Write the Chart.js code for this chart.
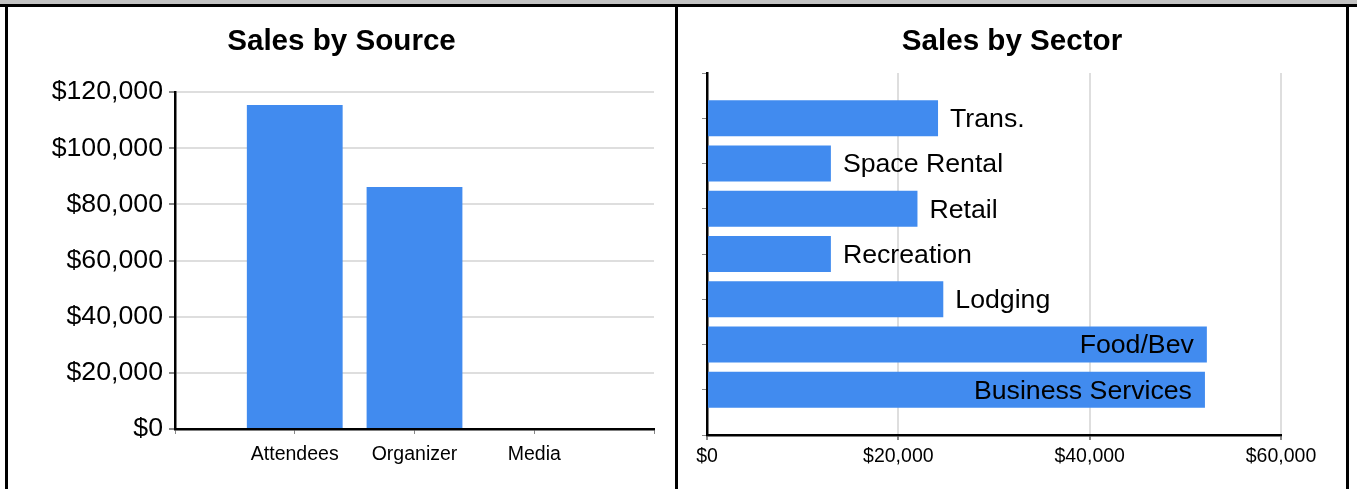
<!DOCTYPE html>
<html>
<head>
<meta charset="utf-8">
<script src="https://cdn.jsdelivr.net/npm/chart.js@4.4.1/dist/chart.umd.min.js"></script>
<style>
  body { margin: 0; background: #fff; width: 1357px; height: 489px; overflow: hidden; position: relative; }
  .band { position: absolute; left: 0; top: 0; width: 1357px; height: 4px; background: #c3c3c3; }
  .line { position: absolute; background: #000; }
  canvas { position: absolute; top: 7px; }
</style>
</head>
<body>
<div class="band"></div>
<div class="line" style="left:0;top:4px;width:1357px;height:3px"></div>
<div class="line" style="left:5px;top:4px;width:3px;height:485px"></div>
<div class="line" style="left:675px;top:4px;width:3px;height:485px"></div>
<div class="line" style="left:1346px;top:4px;width:3px;height:485px"></div>
<canvas id="sourceChart" width="667" height="482" style="left:8px"></canvas>
<canvas id="sectorChart" width="668" height="482" style="left:678px"></canvas>
<script>
/**********************************
  DATA
**********************************/
const sourceLabels = ['Attendees', 'Organizer', 'Media'];
const sourceValues = [115400, 86200, 0];
const sourceTicks  = [0, 20000, 40000, 60000, 80000, 100000, 120000];

const sectorLabels = ['Trans.', 'Space Rental', 'Retail', 'Recreation', 'Lodging', 'Food/Bev', 'Business Services'];
const sectorValues = [24150, 12950, 22000, 12950, 24700, 52250, 52050];
const sectorTicks  = [0, 20000, 40000, 60000];

/**********************************
  SHARED STYLE
**********************************/
const FONT = '"Liberation Sans", Arial, sans-serif';
const BAR_BLUE = '#418bef';
const money = v => '$' + Number(v).toLocaleString('en-US');

// empty slot at each end, like the original axis
const pad = arr => [null, ...arr, null];
const padLabels = arr => ['', ...arr, ''];

// invisible right-hand axis, only there to leave a gap right of the plot
// (keeps the title centred on the whole panel)
const spacerAxis = w => ({
  type: 'linear',
  position: 'right',
  grid: { display: false },
  border: { display: false },
  ticks: { display: false },
  afterFit: s => { s.width = w; }
});

const titleOpts = (text, padBottom) => ({
  display: true,
  text: text,
  color: '#000',
  font: { family: FONT, size: 29.6, weight: 'bold', lineHeight: 1.2 },
  padding: { top: 17, bottom: padBottom }
});

/**********************************
  SALES BY SOURCE
**********************************/
new Chart(document.getElementById('sourceChart'), {
  type: 'bar',
  data: {
    labels: padLabels(sourceLabels),
    datasets: [{
      data: pad(sourceValues),
      backgroundColor: BAR_BLUE,
      barPercentage: 0.8,
      categoryPercentage: 1
    }]
  },
  options: {
    responsive: false,
    animation: false,
    layout: { padding: 0 },
    plugins: {
      legend: { display: false },
      tooltip: { enabled: false },
      title: titleOpts('Sales by Source', 32.5)
    },
    scales: {
      x: {
        offset: false,
        grid: { offset: false, drawOnChartArea: false, tickLength: 5, tickColor: '#888', lineWidth: 1 },
        border: { color: '#000', width: 2.5 },
        ticks: { color: '#000', font: { family: FONT, size: 19.5 }, padding: 9, maxRotation: 0, autoSkip: false },
        afterFit: s => { s.height = 60; }
      },
      y: {
        min: sourceTicks[0],
        max: sourceTicks[sourceTicks.length - 1],
        afterBuildTicks: s => { s.ticks = sourceTicks.map(v => ({ value: v })); },
        grid: { color: '#dedede', lineWidth: 2, tickLength: 6, tickColor: '#888' },
        border: { color: '#000', width: 2.5 },
        ticks: { color: '#000', font: { family: FONT, size: 26.7 }, padding: 6, callback: money },
        afterFit: s => { s.width = 167; }
      },
      gap: spacerAxis(21)
    }
  }
});

/**********************************
  SALES BY SECTOR
**********************************/
// category names drawn next to / inside each bar
const barNamePlugin = {
  id: 'barNames',
  afterDatasetsDraw(chart) {
    const ctx = chart.ctx;
    const area = chart.chartArea;
    const meta = chart.getDatasetMeta(0);
    ctx.save();
    ctx.font = '26.7px ' + FONT;
    ctx.fillStyle = '#000';
    ctx.textBaseline = 'middle';
    meta.data.forEach((bar, i) => {
      const name = chart.data.labels[i];
      if (!name) return;
      const w = ctx.measureText(name).width;
      if (bar.x + 12 + w <= area.right) {
        ctx.textAlign = 'left';
        ctx.fillText(name, bar.x + 12, bar.y + 1.5);
      } else {
        ctx.textAlign = 'right';
        ctx.fillText(name, bar.x - 13, bar.y + 1.5);
      }
    });
    ctx.restore();
  }
};

new Chart(document.getElementById('sectorChart'), {
  type: 'bar',
  data: {
    labels: padLabels(sectorLabels),
    datasets: [{
      data: pad(sectorValues),
      backgroundColor: BAR_BLUE,
      barPercentage: 0.8,
      categoryPercentage: 1
    }]
  },
  plugins: [barNamePlugin],
  options: {
    indexAxis: 'y',
    responsive: false,
    animation: false,
    layout: { padding: 0 },
    plugins: {
      legend: { display: false },
      tooltip: { enabled: false },
      title: titleOpts('Sales by Sector', 13.5)
    },
    scales: {
      x: {
        min: sectorTicks[0],
        max: sectorTicks[sectorTicks.length - 1],
        afterBuildTicks: s => { s.ticks = sectorTicks.map(v => ({ value: v })); },
        grid: { color: '#dedede', lineWidth: 2, tickLength: 5, tickColor: '#888' },
        border: { color: '#000', width: 2.5 },
        ticks: { color: '#000', font: { family: FONT, size: 19.5 }, padding: 5, callback: money, maxRotation: 0 },
        afterFit: s => { s.height = 54; }
      },
      y: {
        offset: false,
        grid: { offset: false, drawOnChartArea: false, tickLength: 5, tickColor: '#888', lineWidth: 1 },
        border: { color: '#000', width: 2.5 },
        ticks: { display: false, autoSkip: false },
        afterFit: s => { s.width = 29; }
      },
      gap: spacerAxis(65)
    }
  }
});
</script>
</body>
</html>
